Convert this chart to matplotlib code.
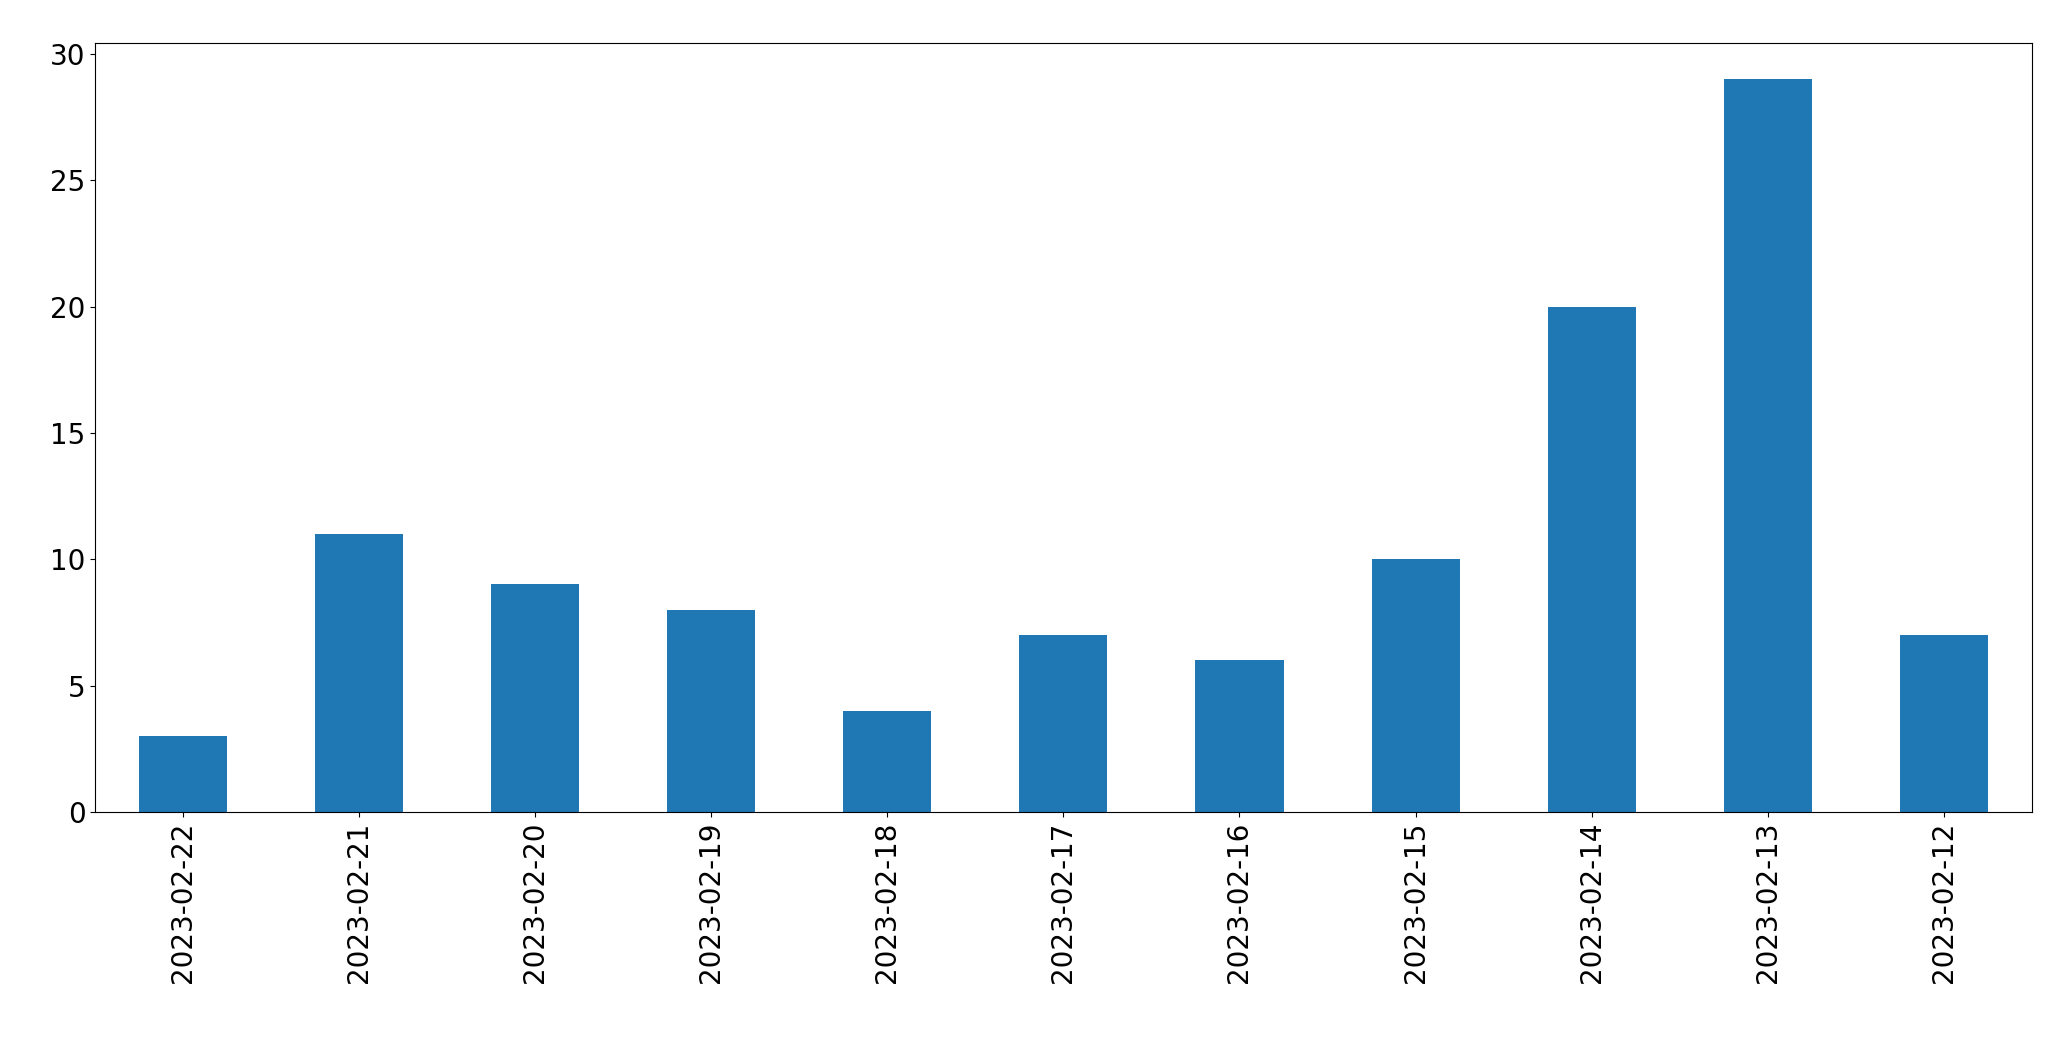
import matplotlib
matplotlib.use("Agg")
import matplotlib.pyplot as plt

dates = ["2023-02-22", "2023-02-21", "2023-02-20", "2023-02-19", "2023-02-18",
         "2023-02-17", "2023-02-16", "2023-02-15", "2023-02-14", "2023-02-13",
         "2023-02-12"]
counts = [3, 11, 9, 8, 4, 7, 6, 10, 20, 29, 7]

fig = plt.figure(figsize=(20.71, 10.64), dpi=100)
ax = fig.add_axes([0.046, 0.237, 0.935, 0.723])
x = range(len(dates))
ax.bar(x, counts, width=0.5, color="#1f77b4")
ax.set_xlim(-0.5, len(dates) - 0.5)
ax.set_xticks(list(x))
ax.set_xticklabels(dates, rotation=90)
ax.tick_params(labelsize=20)
fig.savefig("out.png", dpi=100)
